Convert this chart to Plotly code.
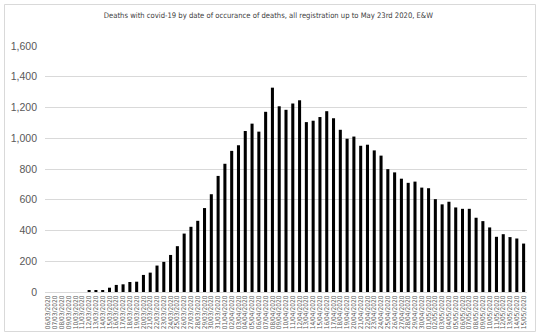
import datetime as dt
import plotly.graph_objects as go

start = dt.date(2020, 3, 6)
deaths = [
    0, 0, 0, 0, 0, 0,
    11, 11, 13, 28, 46, 50, 65, 67, 111, 126, 172, 196, 241, 298, 380, 424, 463, 546, 636, 755,
    834, 918, 955, 1047, 1095, 1043, 1172, 1329, 1208, 1185, 1226, 1247, 1105, 1114, 1138, 1176,
    1130, 1055, 997, 1011, 951, 958, 921, 887, 799, 778, 737, 710, 718, 679, 675,
    604, 570, 587, 550, 541, 541, 483, 461, 420, 359, 376, 357, 348, 315,
]
dates = [(start + dt.timedelta(days=i)).strftime("%d/%m/%Y") for i in range(len(deaths))]

title_text = "Deaths with covid-19 by date of occurance of deaths, all registration up to May 23rd 2020, E&W"
y_ticks = [0, 200, 400, 600, 800, 1000, 1200, 1400, 1600]
y_labels = ["0", "200", "400", "600", "800", "1,000", "1,200", "1,400", "1,600"]

W, H = 540, 335
ml, mr, mt, mb = 45, 13, 46, 43
pw, ph = W - ml - mr, H - mt - mb

def px_x(x):
    return (x - ml) / pw

def px_y(y):
    return (H - mb - y) / ph

fig = go.Figure(go.Bar(x=dates, y=deaths, marker=dict(color="#000000", line=dict(width=0)),
                       hoverinfo="x+y"))

fig.update_layout(
    width=W, height=H,
    margin=dict(l=ml, r=mr, t=mt, b=mb),
    paper_bgcolor="white", plot_bgcolor="white",
    bargap=0.55,
    showlegend=False,
    font=dict(family="Liberation Sans, Arial, sans-serif", color="#595959"),
    title=dict(text=title_text, x=0.497, xanchor="center", y=1 - 15 / H, yanchor="middle",
               yref="container",
               font=dict(size=7.6, color="#404040", family="DejaVu Sans Condensed, sans-serif")),
    xaxis=dict(type="category", tickangle=-90, tickmode="array", tickvals=dates, ticktext=dates,
               tickfont=dict(size=6.5, color="#595959", family="DejaVu Sans Condensed, sans-serif"),
               showline=True, linecolor="#d9d9d9", linewidth=1, ticks="", showgrid=False,
               automargin=False),
    yaxis=dict(range=[0, 1600], tickvals=y_ticks, ticktext=y_labels, showgrid=True,
               gridcolor="#d9d9d9", gridwidth=1, zeroline=False, ticks="",
               tickfont=dict(size=10.5, color="#595959"), automargin=False, ticklabelstandoff=7),
    shapes=[dict(type="rect", xref="paper", yref="paper",
                 x0=px_x(4.5), x1=px_x(535.5), y0=px_y(331.5), y1=px_y(4.5),
                 line=dict(color="#d9d9d9", width=1), fillcolor="rgba(0,0,0,0)", layer="below")],
)

fig.write_html("out.html")
